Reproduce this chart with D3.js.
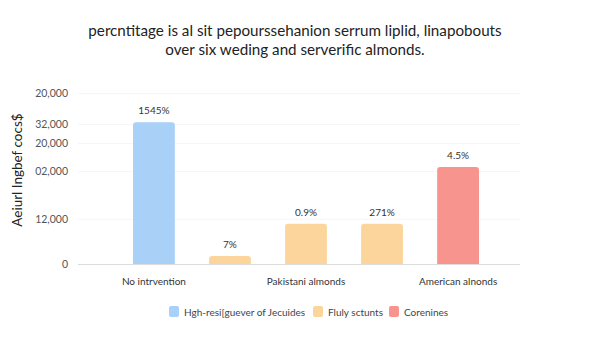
<!DOCTYPE html>
<html><head><meta charset="utf-8">
<script src="https://cdn.jsdelivr.net/npm/d3@7"></script>
<style>body{margin:0;background:#fff}svg{display:block}</style>
</head><body><svg id="c" width="600" height="338"></svg>
<script>
const titleLines = ["percntitage is al sit pepourssehanion serrum liplid, linapobouts", "over six weding and serverific almonds."];
const yAxisTitle = "Aeiurl Ingbef cocs$";
const categories = ["No intrvention", "", "Pakistani almonds", "", "American alnonds"];
const values = [81.5, 4.6, 23.2, 23.2, 55.8];
const valueLabels = ["1545%", "7%", "0.9%", "271%", "4.5%"];
const seriesOf = [0, 1, 1, 1, 2];
const seriesNames = ["Hgh-resi[guever of Jecuides", "Fluly sctunts", "Corenines"];
const seriesColors = ["#a9d0f7", "#fcd59c", "#f8948e"];
const tickValues = [0, 26, 53.5, 69.5, 80.5, 98.2];
const tickLabels = ["0", "12,000", "02,000", "20,000", "32,000", "20,000"];

const svg = d3.select("#c");
const font = "Lato, 'Open Sans', sans-serif";

const x = d3.scaleBand().domain(d3.range(categories.length)).range([114, 498]).paddingInner(0.45).paddingOuter(0.25);
const y = d3.scaleLinear().domain([0, 100]).range([264, 90]);

// title
svg.append("g").selectAll("text").data(titleLines).join("text")
  .attr("x", 295).attr("y", (d, i) => 36 + i * 19)
  .attr("text-anchor", "middle").attr("font-family", font).attr("font-size", 15.2)
  .attr("fill", "#222").text(d => d);

// y axis
const yAxis = d3.axisLeft(y).tickValues(tickValues).tickFormat((d, i) => tickLabels[i]).tickSize(0).tickPadding(0);
const gy = svg.append("g").attr("transform", "translate(68,0)").call(yAxis);
gy.select(".domain").remove();
gy.selectAll("text").attr("font-family", font).attr("font-size", 10.5).attr("fill", "#555");

// grid
svg.append("g").selectAll("line").data(tickValues).join("line")
  .attr("x1", 78).attr("x2", 520).attr("y1", d => y(d) + 0.5).attr("y2", d => y(d) + 0.5)
  .attr("stroke", d => d === 0 ? "#ddd" : "#f6f6f6").attr("stroke-width", 1);

// y title
svg.append("text").attr("transform", "translate(22,170) rotate(-90)")
  .attr("text-anchor", "middle").attr("font-family", font).attr("font-size", 13.5)
  .attr("fill", "#222").text(yAxisTitle);

// bars
svg.append("g").selectAll("path").data(values).join("path")
  .attr("d", (d, i) => {
    const x0 = x(i), w = x.bandwidth(), y0 = y(d), h = y(0) - y(d), r = 3;
    return `M${x0},${y0 + h}V${y0 + r}Q${x0},${y0} ${x0 + r},${y0}H${x0 + w - r}Q${x0 + w},${y0} ${x0 + w},${y0 + r}V${y0 + h}Z`;
  })
  .attr("fill", (d, i) => seriesColors[seriesOf[i]]);

// value labels
svg.append("g").selectAll("text").data(values).join("text")
  .attr("x", (d, i) => x(i) + x.bandwidth() / 2).attr("y", d => y(d) - 8)
  .attr("text-anchor", "middle").attr("font-family", font).attr("font-size", 10)
  .attr("fill", "#333").text((d, i) => valueLabels[i]);

// x labels
svg.append("g").selectAll("text").data(categories).join("text")
  .attr("x", (d, i) => x(i) + x.bandwidth() / 2).attr("y", 285)
  .attr("text-anchor", "middle").attr("font-family", font).attr("font-size", 10)
  .attr("fill", "#333").text(d => d);

// legend
const legX = [169, 313, 389];
const lg = svg.append("g").selectAll("g").data(seriesNames).join("g")
  .attr("transform", (d, i) => `translate(${legX[i]},306)`);
lg.append("rect").attr("width", 10).attr("height", 11).attr("rx", 2).attr("fill", (d, i) => seriesColors[i]);
lg.append("text").attr("x", 15).attr("y", 9.5).attr("font-family", font).attr("font-size", 10)
  .attr("fill", "#444").text(d => d);
</script></body></html>
